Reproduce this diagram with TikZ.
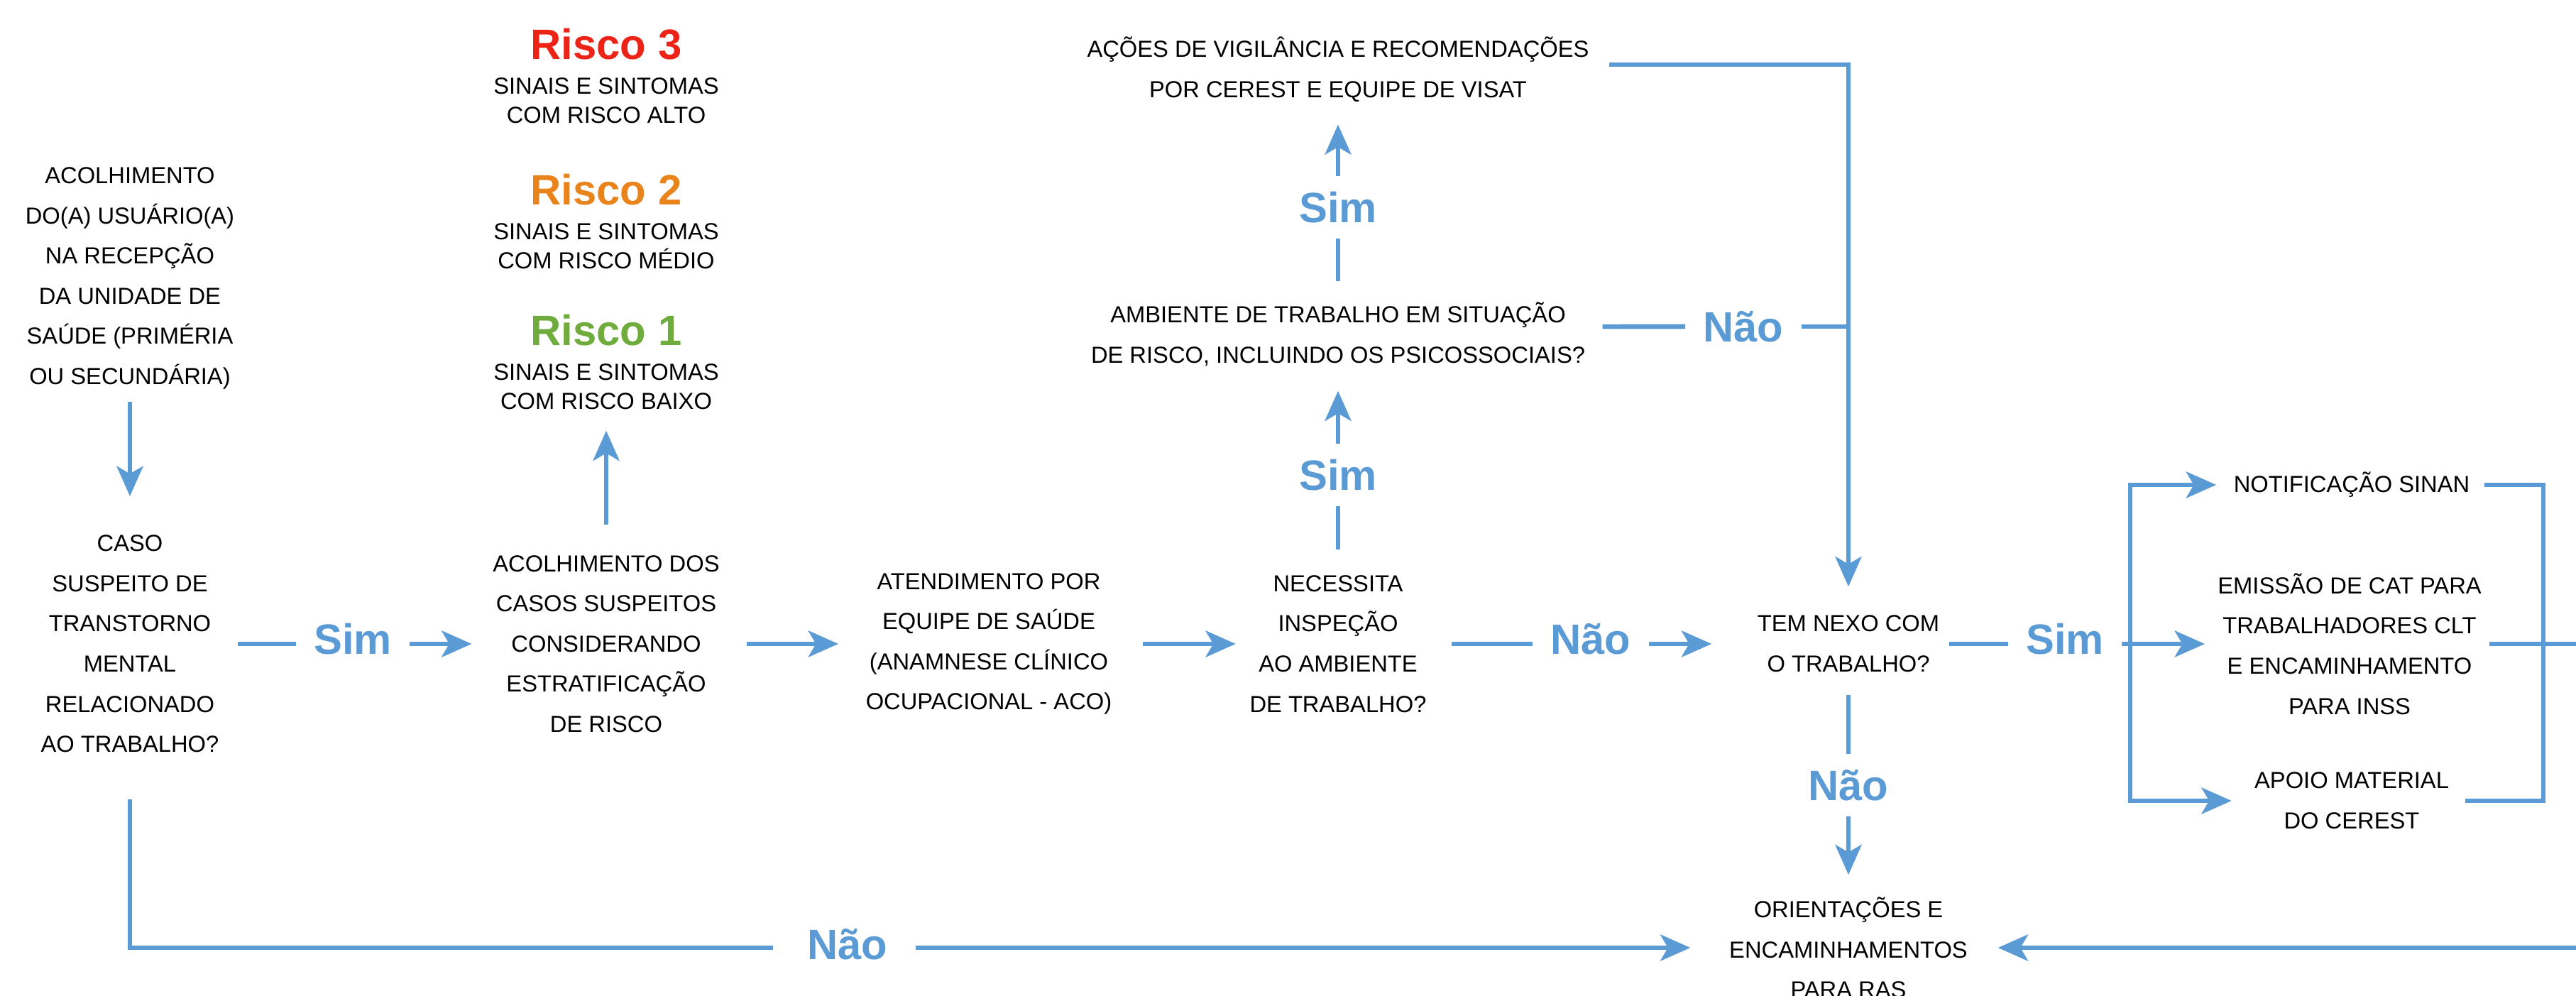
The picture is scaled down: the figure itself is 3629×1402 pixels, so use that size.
\documentclass[tikz,border=0pt]{standalone}
\usepackage{fontspec}
\setmainfont{Liberation Sans}
\usetikzlibrary{arrows.meta}
\definecolor{flowblue}{HTML}{5B9BD5}
\definecolor{riscored}{HTML}{EC2418}
\definecolor{riscoorange}{HTML}{E9841D}
\definecolor{riscogreen}{HTML}{6FAC3D}
\begin{document}
\begin{tikzpicture}[x=0.01cm,y=-0.01cm,
		txt/.style={align=center,inner sep=0pt,font=\fontsize{9.3}{16.1}\selectfont},
		subtxt/.style={align=center,inner sep=0pt,font=\fontsize{9.3}{11.7}\selectfont},
		titulo/.style={inner sep=0pt,font=\bfseries\fontsize{17}{20}\selectfont},
		resp/.style={inner xsep=7pt,inner ysep=6pt,text height=12.4pt,text depth=0pt,text=flowblue,font=\bfseries\fontsize{17}{20}\selectfont},
		linha/.style={draw=flowblue,line width=1.9pt},
		seta/.style={linha,-{Stealth[length=12pt,width=10.5pt,inset=3pt]}}]
		\useasboundingbox (0,0) rectangle (3629,1402);
		\clip (0,0) rectangle (3629,1402);
		% caixas de texto
		\node[txt] (acolh) at (183,392) {ACOLHIMENTO\\DO(A) USUÁRIO(A)\\NA RECEPÇÃO\\DA UNIDADE DE\\SAÚDE (PRIMÉRIA\\OU SECUNDÁRIA)};
		\node[txt] (caso) at (183,907) {CASO\\SUSPEITO DE\\TRANSTORNO\\MENTAL\\RELACIONADO\\AO TRABALHO?};
		\node[txt] (acolhcasos) at (854,907) {ACOLHIMENTO DOS\\CASOS SUSPEITOS\\CONSIDERANDO\\ESTRATIFICAÇÃO\\DE RISCO};
		\foreach \n/\cor/\y/\nivel in {3/riscored/62/ALTO,2/riscoorange/267/MÉDIO,1/riscogreen/465/BAIXO}
		{
			\node[titulo,text=\cor] (risco\n) at (854,\y) {Risco \n};
			\node[subtxt] (risco\n txt) at (854,\y+80) {SINAIS E SINTOMAS\\COM RISCO \nivel};
		}
		\node[txt] (atend) at (1393,907) {ATENDIMENTO POR\\EQUIPE DE SAÚDE\\(ANAMNESE CLÍNICO\\OCUPACIONAL - ACO)};
		\node[txt] (necess) at (1885,907) {NECESSITA\\INSPEÇÃO\\AO AMBIENTE\\DE TRABALHO?};
		\node[txt] (ambiente) at (1885,471) {AMBIENTE DE TRABALHO EM SITUAÇÃO\\DE RISCO, INCLUINDO OS PSICOSSOCIAIS?};
		\node[txt] (acoes) at (1885,98) {AÇÕES DE VIGILÂNCIA E RECOMENDAÇÕES\\POR CEREST E EQUIPE DE VISAT};
		\node[txt] (nexo) at (2604,907) {TEM NEXO COM\\O TRABALHO?};
		\node[txt] (notif) at (3313,683) {NOTIFICAÇÃO SINAN};
		\node[txt] (emissao) at (3310,907) {EMISSÃO DE CAT PARA\\TRABALHADORES CLT\\E ENCAMINHAMENTO\\PARA INSS};
		\node[txt] (apoio) at (3313,1128) {APOIO MATERIAL\\DO CEREST};
		\node[txt] (orient) at (2604,1335) {ORIENTAÇÕES E\\ENCAMINHAMENTOS\\PARA RAS};
		% respostas
		\node[resp] (sim1) at (497,900) {Sim};
		\node[resp] (sim2) at (1885,669) {Sim};
		\node[resp] (sim3) at (1885,292) {Sim};
		\node[resp] (sim4) at (2909,900) {Sim};
		\node[resp] (nao1) at (2241,900) {Não};
		\node[resp] (nao2) at (2456,460) {Não};
		\node[resp] (nao3) at (2604,1106) {Não};
		\node[resp] (nao4) at (1194,1330) {Não};
		\coordinate (brL) at (3001,907);
		\coordinate (brR) at (3583,907);
		\coordinate (outR) at (3700,907);
		% ligacoes
		\draw[seta,shorten <=4.8pt,shorten >=15.4pt] (acolh) -- (caso);
		\draw[linha,shorten <=7.4pt] (caso) -- (caso -| sim1.west);
		\draw[seta,shorten >=8.3pt] (sim1.east |- caso) -- (acolhcasos);
		\draw[seta,shorten <=12.2pt,shorten >=8.2pt] (acolhcasos) -- (risco1txt);
		\draw[seta,shorten <=10.8pt,shorten >=10.8pt] (acolhcasos) -- (atend);
		\draw[seta,shorten <=12.2pt,shorten >=5.4pt] (atend) -- (necess);
		\draw[linha,shorten <=10pt] (necess) -- (necess -| nao1.west);
		\draw[seta,shorten >=18.2pt] (nao1.east |- nexo) -- (nexo);
		\draw[linha,shorten <=10.2pt] (necess) -- (sim2);
		\draw[seta,shorten >=9.7pt] (sim2) -- (ambiente);
		\draw[linha,shorten <=8.5pt] (ambiente) -- (sim3);
		\draw[seta,shorten >=8.8pt] (sim3) -- (acoes);
		\draw[seta,shorten <=8pt,shorten >=11.4pt] ([yshift=2pt]acoes.east) -| (nexo);
		\draw[linha,shorten <=6.8pt] ([yshift=3.1pt]ambiente.east) -- (nao2);
		\draw[linha] (nao2) -- (nao2 -| nexo);
		\draw[linha,shorten <=9pt] (nexo) -- (nao3);
		\draw[seta,shorten >=8.8pt] (nao3) -- (orient);
		\draw[linha,shorten <=3.7pt] (nexo) -- (nexo -| sim4.west);
		\draw[linha] (sim4.east |- brL) -- (brL);
		\draw[seta,shorten >=6.8pt] (brL) |- (notif);
		\draw[seta,shorten >=5pt] (brL) -- (emissao);
		\draw[seta,shorten >=9pt] (brL) |- (apoio);
		\draw[linha,shorten <=5.7pt,shorten >=6.3pt] (notif) -- (notif -| brR) -- (apoio -| brR) -- (apoio);
		\draw[seta,shorten <=3pt,shorten >=12pt] (emissao) -- (outR) |- (orient);
		\draw[linha,shorten <=18.5pt,shorten >=6.7pt] (caso) |- (nao4.west |- orient);
		\draw[seta,shorten <=4pt,shorten >=15.4pt] (nao4.east |- orient) -- (orient);
\end{tikzpicture}
\end{document}
